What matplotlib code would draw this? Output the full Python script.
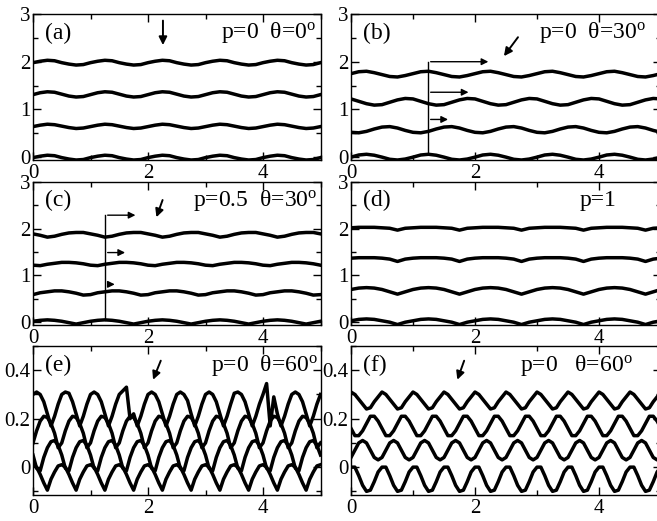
import numpy as np
import matplotlib
matplotlib.use("Agg")
import matplotlib.pyplot as plt
from matplotlib.ticker import MultipleLocator, FuncFormatter

plt.rcParams['font.family'] = ['Liberation Serif', 'DejaVu Serif']
plt.rcParams['mathtext.fontset'] = 'custom'
plt.rcParams['mathtext.rm'] = 'Liberation Serif'
plt.rcParams['mathtext.it'] = 'Liberation Serif:italic'

# ---------------- data ----------------
x_ad = np.linspace(0, 5, 41)
x_ef = np.linspace(0, 5, 81)

a1 = [1.98, 2.01, 2.03, 2.02, 1.98, 1.95, 1.93, 1.94,
      1.98, 2.01, 2.03, 2.02, 1.98, 1.95, 1.93, 1.94,
      1.98, 2.01, 2.03, 2.02, 1.98, 1.95, 1.93, 1.94,
      1.98, 2.01, 2.03, 2.02, 1.98, 1.95, 1.93, 1.94,
      1.98, 2.01, 2.03, 2.02, 1.98, 1.95, 1.93, 1.94, 1.98]
a2 = [1.31, 1.35, 1.37, 1.36, 1.32, 1.28, 1.26, 1.27,
      1.31, 1.35, 1.37, 1.36, 1.32, 1.28, 1.26, 1.27,
      1.31, 1.35, 1.37, 1.36, 1.32, 1.28, 1.26, 1.27,
      1.31, 1.35, 1.37, 1.36, 1.32, 1.28, 1.26, 1.27,
      1.31, 1.35, 1.37, 1.36, 1.32, 1.28, 1.26, 1.27, 1.31]
a3 = [0.64, 0.67, 0.69, 0.68, 0.65, 0.62, 0.60, 0.61,
      0.64, 0.67, 0.69, 0.68, 0.65, 0.62, 0.60, 0.61,
      0.64, 0.67, 0.69, 0.68, 0.65, 0.62, 0.60, 0.61,
      0.64, 0.67, 0.69, 0.68, 0.65, 0.62, 0.60, 0.61,
      0.64, 0.67, 0.69, 0.68, 0.65, 0.62, 0.60, 0.61, 0.64]
a4 = [-0.01, 0.02, 0.04, 0.03, -0.01, -0.04, -0.06, -0.05,
      -0.01, 0.02, 0.04, 0.03, -0.01, -0.04, -0.06, -0.05,
      -0.01, 0.02, 0.04, 0.03, -0.01, -0.04, -0.06, -0.05,
      -0.01, 0.02, 0.04, 0.03, -0.01, -0.04, -0.06, -0.05,
      -0.01, 0.02, 0.04, 0.03, -0.01, -0.04, -0.06, -0.05, -0.01]

b1 = [1.75, 1.79, 1.80, 1.77, 1.73, 1.69, 1.68, 1.71,
      1.75, 1.79, 1.80, 1.77, 1.73, 1.69, 1.68, 1.71,
      1.75, 1.79, 1.80, 1.77, 1.73, 1.69, 1.68, 1.71,
      1.75, 1.79, 1.80, 1.77, 1.73, 1.69, 1.68, 1.71,
      1.75, 1.79, 1.80, 1.77, 1.73, 1.69, 1.68, 1.71, 1.75]
b2 = [1.22, 1.17, 1.12, 1.09, 1.10, 1.15, 1.20, 1.23,
      1.22, 1.17, 1.12, 1.09, 1.10, 1.15, 1.20, 1.23,
      1.22, 1.17, 1.12, 1.09, 1.10, 1.15, 1.20, 1.23,
      1.22, 1.17, 1.12, 1.09, 1.10, 1.15, 1.20, 1.23,
      1.22, 1.17, 1.12, 1.09, 1.10, 1.15, 1.20, 1.23, 1.22]
b3 = [0.52, 0.51, 0.54, 0.59, 0.63, 0.64, 0.61, 0.56,
      0.52, 0.51, 0.54, 0.59, 0.63, 0.64, 0.61, 0.56,
      0.52, 0.51, 0.54, 0.59, 0.63, 0.64, 0.61, 0.56,
      0.52, 0.51, 0.54, 0.59, 0.63, 0.64, 0.61, 0.56,
      0.52, 0.51, 0.54, 0.59, 0.63, 0.64, 0.61, 0.56, 0.52]
b4 = [0.00, 0.045, 0.06, 0.04, 0.00, -0.045, -0.06, -0.04,
      0.00, 0.045, 0.06, 0.04, 0.00, -0.045, -0.06, -0.04,
      0.00, 0.045, 0.06, 0.04, 0.00, -0.045, -0.06, -0.04,
      0.00, 0.045, 0.06, 0.04, 0.00, -0.045, -0.06, -0.04,
      0.00, 0.045, 0.06, 0.04, 0.00, -0.045, -0.06, -0.04, 0.00]

c1 = [1.89, 1.86, 1.82, 1.84, 1.88, 1.91, 1.92, 1.92,
      1.89, 1.86, 1.82, 1.84, 1.88, 1.91, 1.92, 1.92,
      1.89, 1.86, 1.82, 1.84, 1.88, 1.91, 1.92, 1.92,
      1.89, 1.86, 1.82, 1.84, 1.88, 1.91, 1.92, 1.92,
      1.89, 1.86, 1.82, 1.84, 1.88, 1.91, 1.92, 1.92, 1.89]
c2 = [1.22, 1.21, 1.24, 1.26, 1.28, 1.28, 1.27, 1.25,
      1.22, 1.21, 1.24, 1.26, 1.28, 1.28, 1.27, 1.25,
      1.22, 1.21, 1.24, 1.26, 1.28, 1.28, 1.27, 1.25,
      1.22, 1.21, 1.24, 1.26, 1.28, 1.28, 1.27, 1.25,
      1.22, 1.21, 1.24, 1.26, 1.28, 1.28, 1.27, 1.25, 1.22]
c3 = [0.59, 0.63, 0.65, 0.67, 0.67, 0.65, 0.62, 0.58,
      0.59, 0.63, 0.65, 0.67, 0.67, 0.65, 0.62, 0.58,
      0.59, 0.63, 0.65, 0.67, 0.67, 0.65, 0.62, 0.58,
      0.59, 0.63, 0.65, 0.67, 0.67, 0.65, 0.62, 0.58,
      0.59, 0.63, 0.65, 0.67, 0.67, 0.65, 0.62, 0.58, 0.59]
c4 = [0.02, 0.04, 0.05, 0.04, 0.02, -0.01, -0.04, -0.01,
      0.02, 0.04, 0.05, 0.04, 0.02, -0.01, -0.04, -0.01,
      0.02, 0.04, 0.05, 0.04, 0.02, -0.01, -0.04, -0.01,
      0.02, 0.04, 0.05, 0.04, 0.02, -0.01, -0.04, -0.01,
      0.02, 0.04, 0.05, 0.04, 0.02, -0.01, -0.04, -0.01, 0.02]

d1 = [2.02, 2.03, 2.03, 2.03, 2.02, 2.01, 1.97, 2.01,
      2.02, 2.03, 2.03, 2.03, 2.02, 2.01, 1.97, 2.01,
      2.02, 2.03, 2.03, 2.03, 2.02, 2.01, 1.97, 2.01,
      2.02, 2.03, 2.03, 2.03, 2.02, 2.01, 1.97, 2.01,
      2.02, 2.03, 2.03, 2.03, 2.02, 2.01, 1.97, 2.01, 2.02]
d2 = [1.37, 1.38, 1.38, 1.38, 1.37, 1.35, 1.30, 1.35,
      1.37, 1.38, 1.38, 1.38, 1.37, 1.35, 1.30, 1.35,
      1.37, 1.38, 1.38, 1.38, 1.37, 1.35, 1.30, 1.35,
      1.37, 1.38, 1.38, 1.38, 1.37, 1.35, 1.30, 1.35,
      1.37, 1.38, 1.38, 1.38, 1.37, 1.35, 1.30, 1.35, 1.37]
d3 = [0.70, 0.73, 0.74, 0.73, 0.70, 0.65, 0.60, 0.65,
      0.70, 0.73, 0.74, 0.73, 0.70, 0.65, 0.60, 0.65,
      0.70, 0.73, 0.74, 0.73, 0.70, 0.65, 0.60, 0.65,
      0.70, 0.73, 0.74, 0.73, 0.70, 0.65, 0.60, 0.65,
      0.70, 0.73, 0.74, 0.73, 0.70, 0.65, 0.60, 0.65, 0.70]
d4 = [0.03, 0.06, 0.07, 0.06, 0.03, 0.00, -0.05, 0.00,
      0.03, 0.06, 0.07, 0.06, 0.03, 0.00, -0.05, 0.00,
      0.03, 0.06, 0.07, 0.06, 0.03, 0.00, -0.05, 0.00,
      0.03, 0.06, 0.07, 0.06, 0.03, 0.00, -0.05, 0.00,
      0.03, 0.06, 0.07, 0.06, 0.03, 0.00, -0.05, 0.00, 0.03]

e1 = [0.30, 0.31, 0.30, 0.27, 0.22, 0.17, 0.21, 0.26,
      0.30, 0.31, 0.305, 0.27, 0.22, 0.17, 0.21, 0.26,
      0.30, 0.31, 0.30, 0.27, 0.22, 0.17, 0.21, 0.26,
      0.30, 0.315, 0.33, 0.20, 0.22, 0.17, 0.21, 0.26,
      0.30, 0.31, 0.30, 0.27, 0.22, 0.17, 0.21, 0.26,
      0.30, 0.31, 0.30, 0.275, 0.22, 0.17, 0.21, 0.26,
      0.30, 0.31, 0.30, 0.27, 0.22, 0.17, 0.21, 0.26,
      0.305, 0.31, 0.30, 0.27, 0.22, 0.17, 0.21, 0.26,
      0.30, 0.345, 0.17, 0.29, 0.22, 0.17, 0.21, 0.26,
      0.30, 0.31, 0.30, 0.27, 0.22, 0.17, 0.21, 0.26, 0.30]
e2 = [0.10, 0.15, 0.19, 0.21, 0.205, 0.18, 0.14, 0.08,
      0.10, 0.15, 0.19, 0.21, 0.205, 0.18, 0.14, 0.08,
      0.10, 0.15, 0.19, 0.21, 0.205, 0.18, 0.14, 0.08,
      0.10, 0.15, 0.19, 0.21, 0.205, 0.18, 0.14, 0.08,
      0.10, 0.15, 0.19, 0.21, 0.205, 0.18, 0.14, 0.08,
      0.10, 0.15, 0.19, 0.21, 0.205, 0.18, 0.14, 0.08,
      0.10, 0.15, 0.19, 0.21, 0.205, 0.18, 0.14, 0.08,
      0.10, 0.15, 0.19, 0.21, 0.205, 0.18, 0.14, 0.08,
      0.10, 0.15, 0.19, 0.21, 0.205, 0.18, 0.14, 0.08,
      0.10, 0.15, 0.19, 0.21, 0.205, 0.18, 0.14, 0.08, 0.10]
e3 = [0.05, -0.005, -0.015, 0.04, 0.08, 0.105, 0.11, 0.09,
      0.05, -0.005, -0.015, 0.04, 0.08, 0.105, 0.11, 0.09,
      0.05, -0.005, -0.015, 0.04, 0.08, 0.105, 0.11, 0.09,
      0.05, -0.005, -0.015, 0.04, 0.08, 0.105, 0.11, 0.09,
      0.05, -0.005, -0.015, 0.04, 0.08, 0.105, 0.11, 0.09,
      0.05, -0.005, -0.015, 0.04, 0.08, 0.105, 0.11, 0.09,
      0.05, -0.005, -0.015, 0.04, 0.08, 0.105, 0.11, 0.09,
      0.05, -0.005, -0.015, 0.04, 0.08, 0.105, 0.11, 0.09,
      0.05, -0.005, -0.015, 0.04, 0.08, 0.105, 0.11, 0.09,
      0.05, -0.005, -0.015, 0.04, 0.08, 0.105, 0.11, 0.09, 0.05]
e4 = [0.01, 0.00, -0.03, -0.065, -0.095, -0.05, -0.02, 0.005,
      0.01, 0.00, -0.03, -0.065, -0.095, -0.05, -0.02, 0.005,
      0.01, 0.00, -0.03, -0.065, -0.095, -0.05, -0.02, 0.005,
      0.01, 0.00, -0.03, -0.065, -0.095, -0.05, -0.02, 0.005,
      0.01, 0.00, -0.03, -0.065, -0.095, -0.05, -0.02, 0.005,
      0.01, 0.00, -0.03, -0.065, -0.095, -0.05, -0.02, 0.005,
      0.01, 0.00, -0.03, -0.065, -0.095, -0.05, -0.02, 0.005,
      0.01, 0.00, -0.03, -0.065, -0.095, -0.05, -0.02, 0.005,
      0.01, 0.00, -0.03, -0.065, -0.095, -0.05, -0.02, 0.005,
      0.01, 0.00, -0.03, -0.065, -0.095, -0.05, -0.02, 0.005, 0.01]

f1 = [0.31, 0.30, 0.28, 0.26, 0.24, 0.245, 0.27, 0.29,
      0.31, 0.30, 0.28, 0.26, 0.24, 0.245, 0.27, 0.29,
      0.31, 0.30, 0.28, 0.26, 0.24, 0.245, 0.27, 0.29,
      0.31, 0.30, 0.28, 0.26, 0.24, 0.245, 0.27, 0.29,
      0.31, 0.30, 0.28, 0.26, 0.24, 0.245, 0.27, 0.29,
      0.31, 0.30, 0.28, 0.26, 0.24, 0.245, 0.27, 0.29,
      0.31, 0.30, 0.28, 0.26, 0.24, 0.245, 0.27, 0.29,
      0.31, 0.30, 0.28, 0.26, 0.24, 0.245, 0.27, 0.29,
      0.31, 0.30, 0.28, 0.26, 0.24, 0.245, 0.27, 0.29,
      0.31, 0.30, 0.28, 0.26, 0.24, 0.245, 0.27, 0.29, 0.31]
f2 = [0.16, 0.13, 0.13, 0.15, 0.18, 0.21, 0.21, 0.19,
      0.16, 0.13, 0.13, 0.15, 0.18, 0.21, 0.21, 0.19,
      0.16, 0.13, 0.13, 0.15, 0.18, 0.21, 0.21, 0.19,
      0.16, 0.13, 0.13, 0.15, 0.18, 0.21, 0.21, 0.19,
      0.16, 0.13, 0.13, 0.15, 0.18, 0.21, 0.21, 0.19,
      0.16, 0.13, 0.13, 0.15, 0.18, 0.21, 0.21, 0.19,
      0.16, 0.13, 0.13, 0.15, 0.18, 0.21, 0.21, 0.19,
      0.16, 0.13, 0.13, 0.15, 0.18, 0.21, 0.21, 0.19,
      0.16, 0.13, 0.13, 0.15, 0.18, 0.21, 0.21, 0.19,
      0.16, 0.13, 0.13, 0.15, 0.18, 0.21, 0.21, 0.19, 0.16]
f3 = [0.04, 0.07, 0.10, 0.11, 0.10, 0.07, 0.04, 0.03,
      0.04, 0.07, 0.10, 0.11, 0.10, 0.07, 0.04, 0.03,
      0.04, 0.07, 0.10, 0.11, 0.10, 0.07, 0.04, 0.03,
      0.04, 0.07, 0.10, 0.11, 0.10, 0.07, 0.04, 0.03,
      0.04, 0.07, 0.10, 0.11, 0.10, 0.07, 0.04, 0.03,
      0.04, 0.07, 0.10, 0.11, 0.10, 0.07, 0.04, 0.03,
      0.04, 0.07, 0.10, 0.11, 0.10, 0.07, 0.04, 0.03,
      0.04, 0.07, 0.10, 0.11, 0.10, 0.07, 0.04, 0.03,
      0.04, 0.07, 0.10, 0.11, 0.10, 0.07, 0.04, 0.03,
      0.04, 0.07, 0.10, 0.11, 0.10, 0.07, 0.04, 0.03, 0.04]
f4 = [0.00, 0.00, -0.035, -0.075, -0.10, -0.095, -0.06, -0.02,
      0.00, 0.00, -0.035, -0.075, -0.10, -0.095, -0.06, -0.02,
      0.00, 0.00, -0.035, -0.075, -0.10, -0.095, -0.06, -0.02,
      0.00, 0.00, -0.035, -0.075, -0.10, -0.095, -0.06, -0.02,
      0.00, 0.00, -0.035, -0.075, -0.10, -0.095, -0.06, -0.02,
      0.00, 0.00, -0.035, -0.075, -0.10, -0.095, -0.06, -0.02,
      0.00, 0.00, -0.035, -0.075, -0.10, -0.095, -0.06, -0.02,
      0.00, 0.00, -0.035, -0.075, -0.10, -0.095, -0.06, -0.02,
      0.00, 0.00, -0.035, -0.075, -0.10, -0.095, -0.06, -0.02,
      0.00, 0.00, -0.035, -0.075, -0.10, -0.095, -0.06, -0.02, 0.00]

panel_labels = ['(a)', '(b)', '(c)', '(d)', '(e)', '(f)']
panel_titles = [r'p=0  θ=0$^{\rm o}$', r'p=0  θ=30$^{\rm o}$',
                r'p=0.5  θ=30$^{\rm o}$', 'p=1',
                r'p=0  θ=60$^{\rm o}$', r'p=0   θ=60$^{\rm o}$']

# ---------------- layout ----------------
W, H = 657, 521
fig = plt.figure(figsize=(W / 100, H / 100), dpi=100)

def px_axes(left, top, right, bottom):
    return fig.add_axes([left / W, 1 - bottom / H, (right - left) / W, (bottom - top) / H])

cols = [(33, 320.5), (351, 661)]
rows = [(14, 160), (182, 325), (346, 495)]
axes = []
for r in rows:
    for c in cols:
        axes.append(px_axes(c[0], r[0], c[1], r[1]))

LW = 2.5
FS = 15
TFS = 17

def style(ax, small):
    ax.set_xlim(0, 5)
    ax.xaxis.set_major_locator(MultipleLocator(2))
    ax.xaxis.set_minor_locator(MultipleLocator(1))
    if small:
        ax.set_ylim(-0.115, 0.5)
        ax.yaxis.set_major_locator(MultipleLocator(0.2))
        ax.yaxis.set_minor_locator(MultipleLocator(0.1))
        ax.yaxis.set_major_formatter(FuncFormatter(lambda v, p: '0' if abs(v) < 1e-9 else f'{v:.1f}'))
    else:
        ax.set_ylim(-0.06, 3)
        ax.yaxis.set_major_locator(MultipleLocator(1))
        ax.yaxis.set_minor_locator(MultipleLocator(0.5))
        ax.yaxis.set_major_formatter(FuncFormatter(lambda v, p: f'{v:.0f}'))
    ax.xaxis.set_major_formatter(FuncFormatter(lambda v, p: f'{v:.0f}'))
    ax.tick_params(which='both', direction='in', top=True, right=True, width=1.0,
                   labelsize=FS)
    ax.tick_params(axis='x', which='major', pad=3)
    ax.tick_params(axis='y', which='major', pad=2)
    ax.tick_params(which='major', length=6)
    ax.tick_params(which='minor', length=3.5)
    for s in ax.spines.values():
        s.set_linewidth(1.0)

series = [
    (x_ad, [a1, a2, a3, a4]),
    (x_ad, [b1, b2, b3, b4]),
    (x_ad, [c1, c2, c3, c4]),
    (x_ad, [d1, d2, d3, d4]),
    (x_ef, [e1, e2, e3, e4]),
    (x_ef, [f1, f2, f3, f4]),
]

for i, ax in enumerate(axes):
    xs, ys = series[i]
    for y in ys:
        ax.plot(xs, y, color='black', lw=LW, solid_joinstyle='round')
    style(ax, i >= 4)
    ax.text(0.04, 0.87, panel_labels[i], transform=ax.transAxes, fontsize=TFS,
            ha='left', va='center')

title_x = [0.985, 0.952, 0.99, 0.855, 0.99, 0.91]
for i, ax in enumerate(axes):
    ax.text(title_x[i], 0.87, panel_titles[i], transform=ax.transAxes, fontsize=TFS,
            ha='right', va='center')

arrow_kw = dict(arrowstyle='-|>', color='black', lw=1.4, mutation_scale=12)
thin_kw = dict(arrowstyle='-|>', color='black', lw=1.0, mutation_scale=10)

# (a) pointer
axes[0].annotate('', xy=(2.26, 2.29), xytext=(2.26, 2.92), arrowprops=arrow_kw)
# (b)
ax = axes[1]
ax.plot([1.24, 1.24], [0.06, 2.0], color='black', lw=1.0)
for yy, xe in [(2.0, 2.26), (1.36, 1.94), (0.79, 1.61)]:
    ax.annotate('', xy=(xe, yy), xytext=(1.24, yy), arrowprops=thin_kw)
ax.annotate('', xy=(2.44, 2.07), xytext=(2.72, 2.56), arrowprops=arrow_kw)
# (c)
ax = axes[2]
ax.plot([1.25, 1.25], [0.05, 2.29], color='black', lw=1.0)
for yy, xe in [(2.29, 1.83), (1.49, 1.65), (0.81, 1.47)]:
    ax.annotate('', xy=(xe, yy), xytext=(1.25, yy), arrowprops=thin_kw)
ax.annotate('', xy=(2.13, 2.19), xytext=(2.27, 2.67), arrowprops=arrow_kw)
# (e), (f)
axes[4].annotate('', xy=(2.07, 0.35), xytext=(2.24, 0.45), arrowprops=arrow_kw)
axes[5].annotate('', xy=(1.70, 0.35), xytext=(1.84, 0.45), arrowprops=arrow_kw)

fig.savefig('out.png', dpi=100)
